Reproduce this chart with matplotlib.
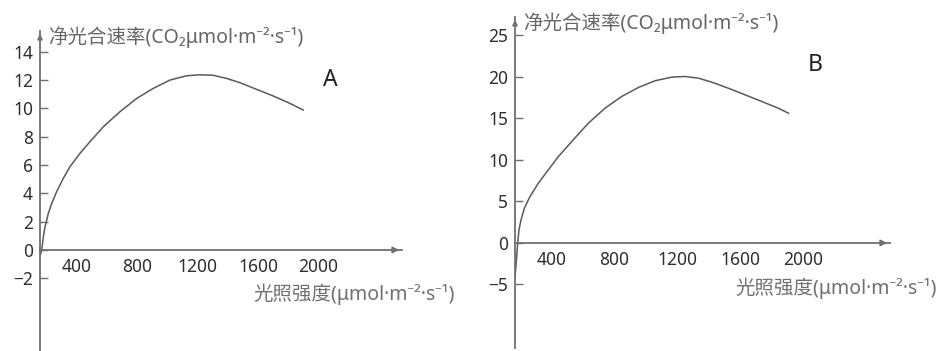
import matplotlib
matplotlib.use("Agg")
import matplotlib.pyplot as plt

plt.rcParams['font.family'] = ['Noto Sans', 'Noto Sans CJK SC', 'DejaVu Sans']

# panel A: light intensity vs net photosynthetic rate
light_a = [160, 167, 178, 189, 211, 233, 266, 310, 354, 420, 487, 575, 685, 796,
           906, 1017, 1127, 1215, 1304, 1392, 1480, 1590, 1701, 1811, 1899]
rate_a = [-0.3, 0.0, 0.94, 1.65, 2.59, 3.29, 4.12, 5.06, 5.88, 6.82, 7.65, 8.7, 9.76, 10.7,
          11.41, 12.0, 12.3, 12.37, 12.33, 12.11, 11.81, 11.34, 10.87, 10.35, 9.88]
yticks_a = [-2, 0, 2, 4, 6, 8, 10, 12, 14]

# panel B
light_b = [166, 175, 183, 191, 204, 225, 261, 314, 378, 442, 527, 633, 739, 845, 951,
           1057, 1164, 1248, 1333, 1418, 1524, 1631, 1737, 1843, 1907]
rate_b = [-4.1, -2.0, 0.04, 1.57, 2.77, 4.18, 5.58, 7.19, 8.8, 10.4, 12.21, 14.42, 16.22, 17.63, 18.71,
          19.52, 19.96, 20.04, 19.84, 19.36, 18.63, 17.83, 17.03, 16.22, 15.62]
yticks_b = [-5, 0, 5, 10, 15, 20, 25]

xticks = [400, 800, 1200, 1600, 2000]
ylab = '净光合速率(CO₂μmol·m⁻²·s⁻¹)'
xlab = '光照强度(μmol·m⁻²·s⁻¹)'

W, H = 949, 351
fig = plt.figure(figsize=(W / 100, H / 100), dpi=100)
axcol = '#707070'
txtcol = '#2e2e2e'


def panel(left, right, top, bottom, xlim, ylim, xs, ys, yt, letter, lpos, ylpos, xlpos):
    ax = fig.add_axes([left / W, 1 - bottom / H, (right - left) / W, (bottom - top) / H])
    ax.patch.set_alpha(0)
    ax.plot(xs, ys, color='#5a5a5a', lw=1.1)
    ax.set_xlim(xlim)
    ax.set_ylim(ylim)
    for s in ['top', 'right']:
        ax.spines[s].set_visible(False)
    ax.spines['left'].set_color(axcol)
    ax.spines['left'].set_linewidth(1.3)
    ax.spines['bottom'].set_position(('data', 0))
    ax.spines['bottom'].set_color(axcol)
    ax.spines['bottom'].set_linewidth(1.3)
    ax.set_yticks(yt)
    ax.set_xticks(xticks)
    ax.tick_params(axis='y', direction='in', length=6, width=1, color=axcol,
                   labelsize=12.5, labelcolor=txtcol, pad=5)
    ax.tick_params(axis='x', length=0, labelsize=12.5, labelcolor=txtcol, pad=6)
    for lab in ax.get_xticklabels() + ax.get_yticklabels():
        lab.set_fontweight('medium')
    # arrow heads
    ax.annotate('', xy=(1, 0), xycoords=ax.get_yaxis_transform(),
                xytext=(0.97, 0), textcoords=ax.get_yaxis_transform(),
                arrowprops=dict(arrowstyle='-|>', color=axcol, lw=1.3,
                                mutation_scale=9))
    ax.annotate('', xy=(0, 1), xycoords='axes fraction',
                xytext=(0, 0.97), textcoords='axes fraction',
                arrowprops=dict(arrowstyle='-|>', color=axcol, lw=1.3,
                                mutation_scale=7))
    fig.text(lpos[0] / W, 1 - lpos[1] / H, letter, fontsize=16.5, color='#222222',
             ha='center', va='center')
    fig.text(ylpos[0] / W, 1 - ylpos[1] / H, ylab, fontsize=14, color='#666666',
             ha='left', va='center')
    fig.text(xlpos[0] / W, 1 - xlpos[1] / H, xlab, fontsize=14, color='#707070',
             ha='left', va='center')
    return ax


panel(40, 402, 31, 351, (155.6, 2553), (-7.13, 15.46), light_a, rate_a, yticks_a,
      'A', (330, 80), (48, 37), (253, 294))
panel(515, 890, 17, 348, (165.6, 2554), (-12.65, 27.2), light_b, rate_b, yticks_b,
      'B', (815, 65), (523, 23), (735, 288))

fig.savefig('out.png', dpi=100)
